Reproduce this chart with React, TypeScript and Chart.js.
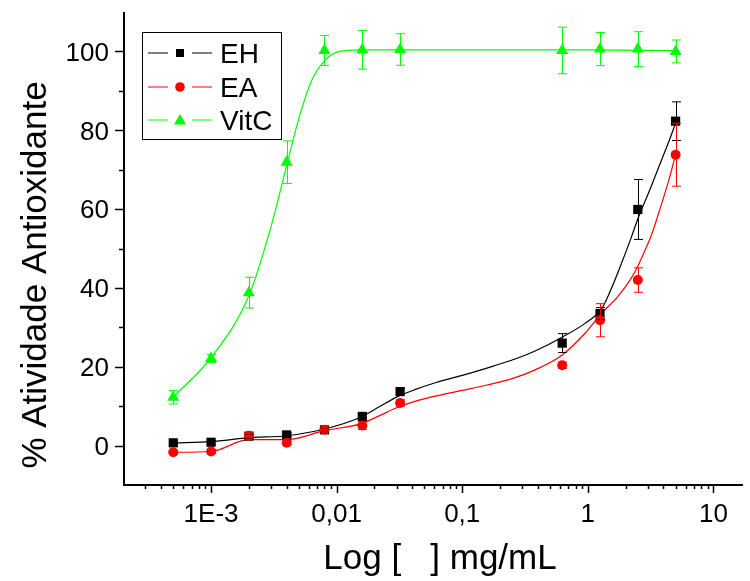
import React, { useEffect, useRef } from "react";
import { Chart, registerables } from "chart.js";

Chart.register(...registerables);

// ---- data ----
const concentrations = [0.0005, 0.001, 0.002, 0.004, 0.008, 0.016, 0.032, 0.625, 1.25, 2.5, 5];
const ehValues = [0.7, 0.85, 2.4, 2.7, 4.0, 7.4, 13.7, 26.0, 33.5, 59.9, 82.3];
const ehErrors = [0.5, 0.5, 0.5, 0.5, 0.5, 0.8, 0.8, 2.4, 1.5, 7.6, 4.9];
const eaValues = [-1.7, -1.5, 2.5, 0.7, 4.0, 5.1, 10.8, 20.4, 31.8, 42.0, 73.8];
const eaErrors = [0.5, 0.5, 0.5, 0.5, 0.5, 1.0, 0.8, 0.8, 4.2, 3.1, 8.0];
const vitcValues = [12.25, 22.1, 38.8, 71.9, 100.25, 100.4, 100.5, 100.25, 100.6, 100.6, 100.0];
const vitcErrors = [1.7, 1.0, 3.9, 5.4, 3.8, 4.9, 4.0, 5.9, 4.2, 4.4, 2.9];

// fitted curves
const ehFitX = [0.0005, 0.001, 0.002, 0.004, 0.008, 0.0155, 0.022, 0.03, 0.042, 0.062, 0.1, 0.155, 0.25, 0.38, 0.625, 0.95, 1.28, 1.5, 1.73, 2.2, 2.5, 3.2, 3.6, 4.4, 5];
const ehFitY = [0.7, 1.0, 2.0, 2.5, 4.2, 7.2, 9.9, 12.3, 14.2, 16.0, 17.8, 19.6, 21.7, 24.0, 27.5, 31.0, 34.6, 39.0, 43.8, 52.5, 57.5, 65.8, 70.0, 77.0, 81.8];
const eaFitX = [0.0005, 0.001, 0.002, 0.004, 0.008, 0.0155, 0.022, 0.03, 0.042, 0.062, 0.1, 0.155, 0.25, 0.38, 0.625, 0.95, 1.28, 1.73, 2.2, 2.5, 2.85, 3.2, 3.6, 4.4, 5];
const eaFitY = [-1.7, -1.5, 1.5, 1.5, 3.8, 5.5, 7.6, 9.6, 11.2, 12.6, 14.0, 15.3, 17.0, 19.2, 23.0, 28.5, 33.5, 37.8, 42.3, 45.5, 49.5, 53.3, 58.2, 67.2, 73.8];
const vitcFitX = [0.0005, 0.001, 0.002, 0.003, 0.004, 0.005, 0.0063, 0.008, 0.0105, 0.015, 0.05, 0.2, 1, 5];
const vitcFitY = [12.3, 22.3, 38.0, 55.5, 71.0, 83.0, 92.5, 97.6, 100.0, 100.4, 100.4, 100.4, 100.4, 100.2];

const xMin = 2.027e-4;
const xMax = 17.2;
const yMin = -10;
const yMax = 110;
const xTickValues = [0.001, 0.01, 0.1, 1, 10];
const xTickLabels = ["1E-3", "0,01", "0,1", "1", "10"];
const yTickValues = [0, 20, 40, 60, 80, 100];
const yMinorTickValues = [10, 30, 50, 70, 90];
const seriesNames = ["EH", "EA", "VitC"];
const xTitle = "Log [   ] mg/mL";
const yTitle = "% Atividade Antioxidante";

const FONT = "'Liberation Sans', Arial, sans-serif";
const BLACK = "#000000";
const RED = "#ff0000";
const GREEN = "#00ff00";

const pts = (xs: number[], ys: number[]) => xs.map((x, i) => ({ x, y: ys[i] }));

const errorSets = [
  { values: ehValues, errors: ehErrors, color: BLACK },
  { values: eaValues, errors: eaErrors, color: RED },
  { values: vitcValues, errors: vitcErrors, color: GREEN },
];

const errorBarPlugin = {
  id: "errorBars",
  afterDatasetsDraw(chart: any) {
    const { ctx, scales } = chart;
    const xs = scales.x;
    const ys = scales.y;
    ctx.save();
    ctx.lineWidth = 1;
    errorSets.forEach((s) => {
      ctx.strokeStyle = s.color;
      concentrations.forEach((c, i) => {
        const px = Math.round(xs.getPixelForValue(c)) + 0.5;
        const top = ys.getPixelForValue(s.values[i] + s.errors[i]);
        const bot = ys.getPixelForValue(s.values[i] - s.errors[i]);
        ctx.beginPath();
        ctx.moveTo(px, top);
        ctx.lineTo(px, bot);
        ctx.moveTo(px - 4.5, top);
        ctx.lineTo(px + 4.5, top);
        ctx.moveTo(px - 4.5, bot);
        ctx.lineTo(px + 4.5, bot);
        ctx.stroke();
      });
    });
    ctx.restore();
  },
};

const axesPlugin = {
  id: "originAxes",
  afterDraw(chart: any) {
    const { ctx, chartArea, scales } = chart;
    const xs = scales.x;
    const ys = scales.y;
    const L = chartArea.left;
    const B = chartArea.bottom;
    ctx.save();
    ctx.strokeStyle = BLACK;
    ctx.fillStyle = BLACK;
    // axis lines
    ctx.lineWidth = 2;
    ctx.beginPath();
    ctx.moveTo(L, chartArea.top);
    ctx.lineTo(L, B + 1);
    ctx.moveTo(L - 1, B);
    ctx.lineTo(chartArea.right, B);
    ctx.stroke();

    // x ticks (log: major decades, minor 2..9)
    ctx.lineWidth = 1.5;
    ctx.beginPath();
    for (let d = -4; d <= 1; d++) {
      for (let m = 1; m <= 9; m++) {
        const v = m * Math.pow(10, d);
        if (v < xMin || v > xMax) continue;
        const px = Math.round(xs.getPixelForValue(v)) + 0.5;
        const len = m === 1 ? 8 : 4;
        ctx.moveTo(px, B);
        ctx.lineTo(px, B + len);
      }
    }
    // y ticks
    yTickValues.forEach((v) => {
      const py = Math.round(ys.getPixelForValue(v)) + 0.5;
      ctx.moveTo(L, py);
      ctx.lineTo(L - 9, py);
    });
    yMinorTickValues.forEach((v) => {
      const py = Math.round(ys.getPixelForValue(v)) + 0.5;
      ctx.moveTo(L, py);
      ctx.lineTo(L - 5, py);
    });
    ctx.stroke();

    // tick labels
    ctx.font = `26px ${FONT}`;
    ctx.textBaseline = "alphabetic";
    ctx.textAlign = "center";
    xTickValues.forEach((v, i) => {
      ctx.fillText(xTickLabels[i], xs.getPixelForValue(v), B + 37);
    });
    ctx.textAlign = "right";
    yTickValues.forEach((v) => {
      ctx.fillText(String(v), L - 15, ys.getPixelForValue(v) + 9.3);
    });

    // axis titles
    ctx.font = `35px ${FONT}`;
    ctx.textAlign = "center";
    ctx.fillText(xTitle, 440, 569);
    ctx.save();
    ctx.translate(46, 275);
    ctx.rotate(-Math.PI / 2);
    ctx.fillText(yTitle, 0, 0);
    ctx.restore();

    // legend
    const bx = 142, by = 32, bw = 139, bh = 107;
    ctx.fillStyle = "#ffffff";
    ctx.fillRect(bx, by, bw, bh);
    ctx.strokeStyle = BLACK;
    ctx.lineWidth = 1;
    ctx.strokeRect(bx + 0.5, by + 0.5, bw, bh);
    const rows = [
      { y: 53, color: BLACK, style: "rect" },
      { y: 87, color: RED, style: "circle" },
      { y: 120, color: GREEN, style: "triangle" },
    ];
    rows.forEach((r, i) => {
      ctx.strokeStyle = r.color;
      ctx.lineWidth = 1;
      ctx.beginPath();
      ctx.moveTo(148, r.y);
      ctx.lineTo(168, r.y);
      ctx.moveTo(192, r.y);
      ctx.lineTo(212, r.y);
      ctx.stroke();
      ctx.fillStyle = r.color;
      ctx.beginPath();
      if (r.style === "rect") {
        ctx.rect(176, r.y - 4, 8, 8);
      } else if (r.style === "circle") {
        ctx.arc(180, r.y, 4.8, 0, Math.PI * 2);
      } else {
        ctx.moveTo(180, r.y - 6);
        ctx.lineTo(186, r.y + 4.5);
        ctx.lineTo(174, r.y + 4.5);
        ctx.closePath();
      }
      ctx.fill();
      ctx.fillStyle = BLACK;
      ctx.font = `28px ${FONT}`;
      ctx.textAlign = "left";
      ctx.fillText(seriesNames[i], 220, r.y + 10);
    });
    ctx.restore();
  },
};

export default function App() {
  const canvasRef = useRef<HTMLCanvasElement | null>(null);

  useEffect(() => {
    document.body.style.margin = "0";
    const canvas = canvasRef.current;
    if (!canvas) return;
    const chart = new Chart(canvas, {
      type: "scatter",
      data: {
        datasets: [
          {
            type: "scatter",
            label: "VitC",
            data: pts(concentrations, vitcValues),
            pointStyle: "triangle",
            pointRadius: 7,
            backgroundColor: GREEN,
            borderColor: GREEN,
            borderWidth: 0,
            order: 0,
          },
          {
            type: "scatter",
            label: "EA",
            data: pts(concentrations, eaValues),
            pointStyle: "circle",
            pointRadius: 5,
            backgroundColor: RED,
            borderColor: RED,
            borderWidth: 0,
            order: 1,
          },
          {
            type: "scatter",
            label: "EH",
            data: pts(concentrations, ehValues),
            pointStyle: "rect",
            pointRadius: 6.5,
            backgroundColor: BLACK,
            borderColor: BLACK,
            borderWidth: 0,
            order: 2,
          },
          {
            type: "line",
            label: "VitC fit",
            data: pts(vitcFitX, vitcFitY),
            borderColor: GREEN,
            borderWidth: 1.2,
            pointRadius: 0,
            fill: false,
            cubicInterpolationMode: "monotone",
            order: 3,
          },
          {
            type: "line",
            label: "EA fit",
            data: pts(eaFitX, eaFitY),
            borderColor: RED,
            borderWidth: 1.2,
            pointRadius: 0,
            fill: false,
            cubicInterpolationMode: "monotone",
            order: 4,
          },
          {
            type: "line",
            label: "EH fit",
            data: pts(ehFitX, ehFitY),
            borderColor: BLACK,
            borderWidth: 1.2,
            pointRadius: 0,
            fill: false,
            cubicInterpolationMode: "monotone",
            order: 5,
          },
        ],
      },
      options: {
        responsive: false,
        animation: false,
        devicePixelRatio: 1,
        layout: { padding: { left: 124, right: 0, top: 12, bottom: 96 } },
        plugins: {
          legend: { display: false },
          tooltip: { enabled: false },
        },
        scales: {
          x: { type: "logarithmic", min: xMin, max: xMax, display: false },
          y: { type: "linear", min: yMin, max: yMax, display: false },
        },
      },
      plugins: [errorBarPlugin, axesPlugin],
    });
    return () => chart.destroy();
  }, []);

  return (
    <div style={{ width: 750, height: 581, background: "#ffffff" }}>
      <canvas ref={canvasRef} width={750} height={581} style={{ display: "block" }} />
    </div>
  );
}
